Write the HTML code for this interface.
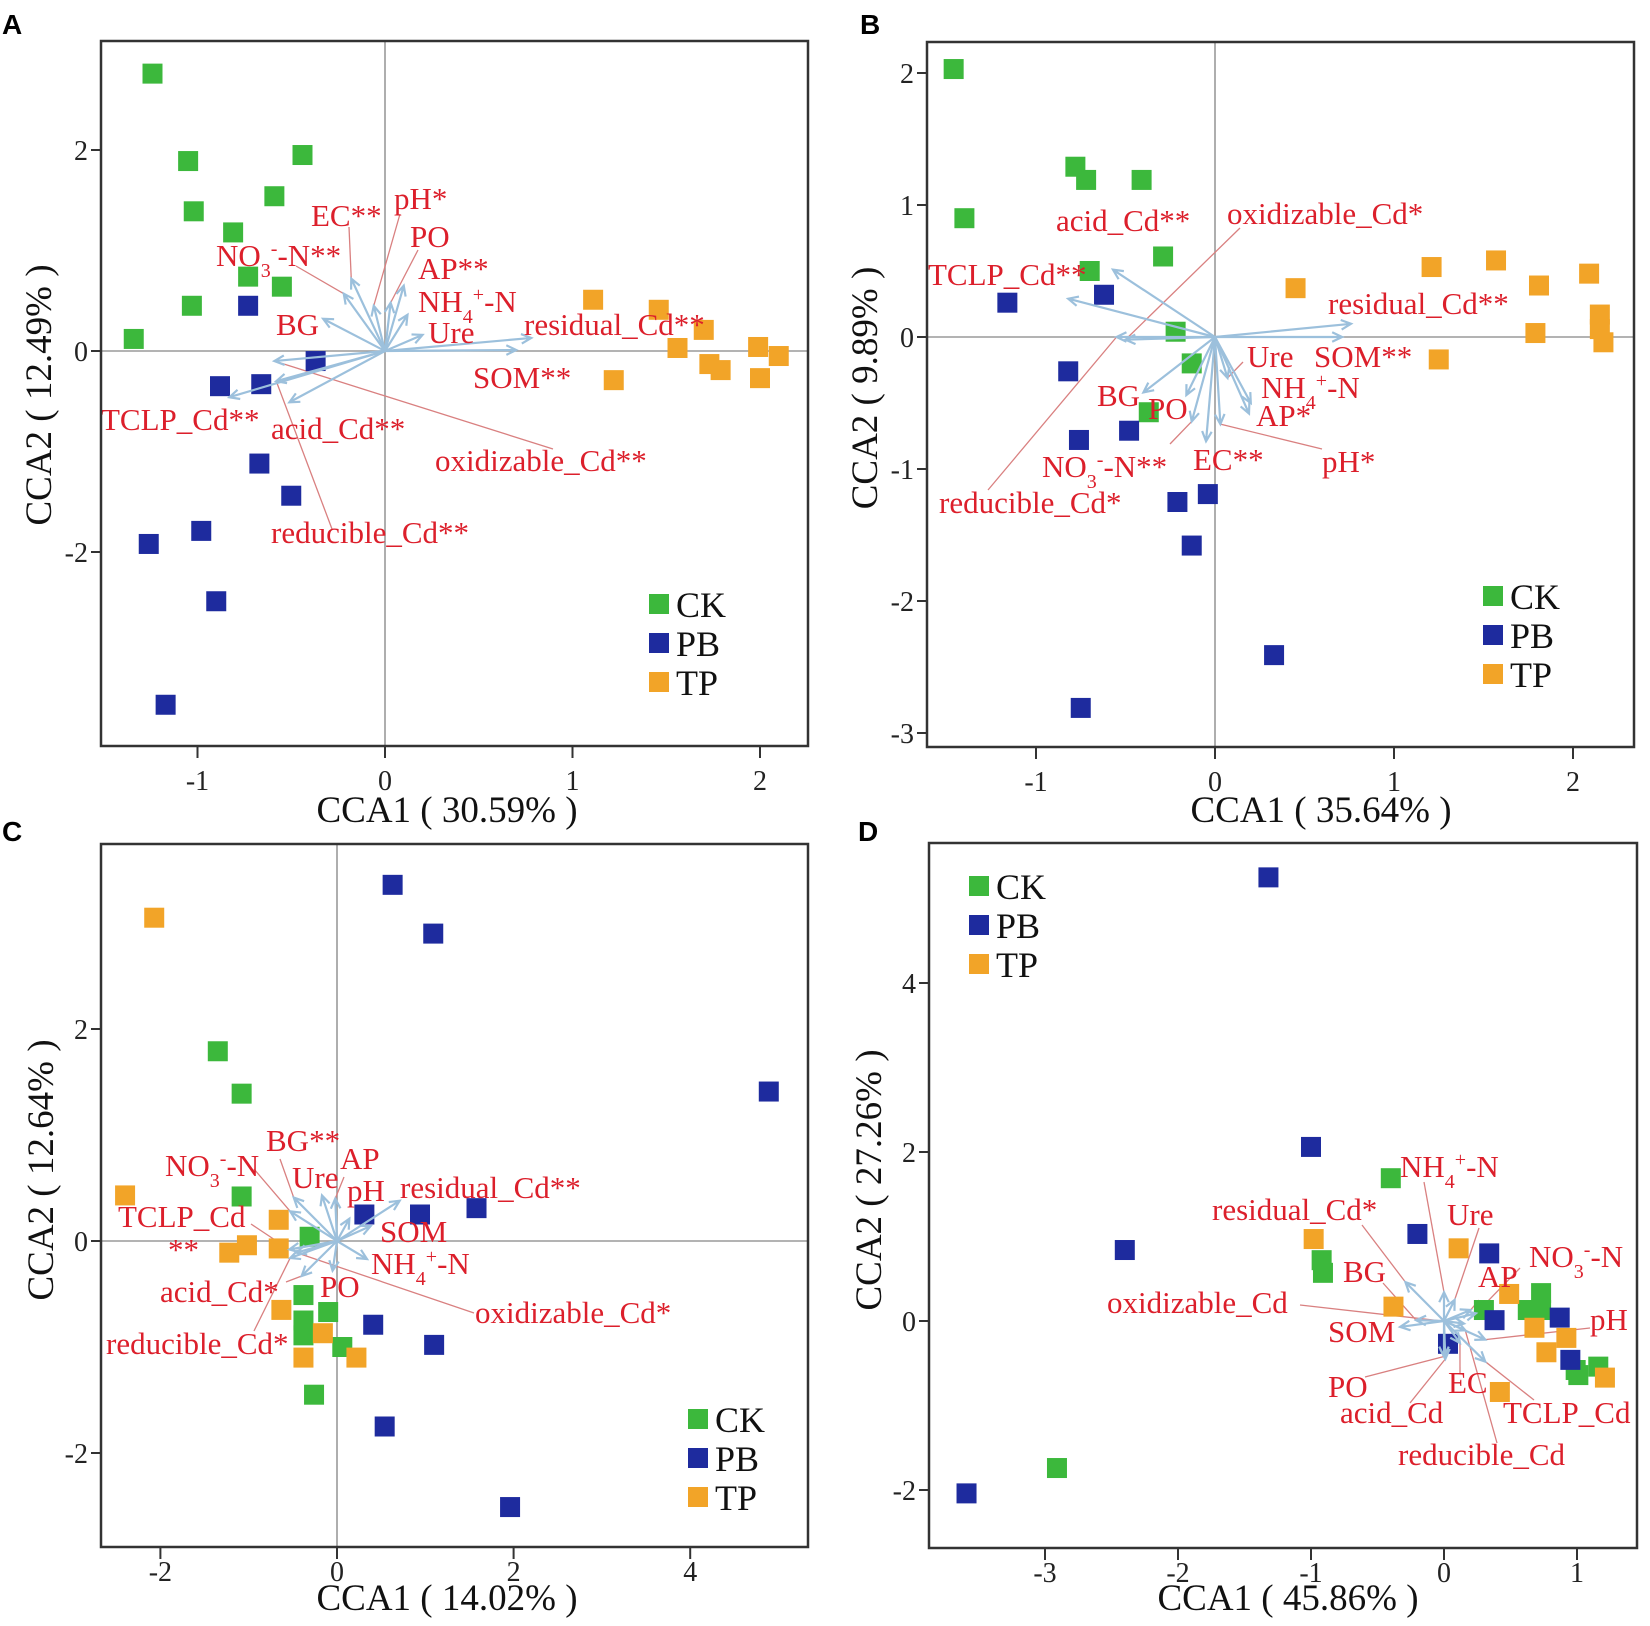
<!DOCTYPE html>
<html><head><meta charset="utf-8"><title>CCA biplots</title>
<style>
html,body{margin:0;padding:0;background:#fff;}
svg{display:block;font-family:"Liberation Serif",serif;}
.lbl{fill:#dc1f2b;font-size:31px;}
.tick{fill:#222;font-size:28px;}
.ttl{fill:#111;font-size:37px;}
.leg{fill:#111;font-size:36px;}
.let{font-family:"Liberation Sans",sans-serif;font-weight:bold;font-size:28px;fill:#000;}
</style></head>
<body>
<svg id="fig" width="1650" height="1626" viewBox="0 0 1650 1626" xmlns="http://www.w3.org/2000/svg"></svg>
<script>
// ---------- DATA ----------
const A_CK=[[-1.24,2.76],[-1.05,1.89],[-1.02,1.39],[-0.44,1.95],[-0.59,1.54],[-0.81,1.18],[-0.73,0.74],[-0.55,0.64],[-1.03,0.45],[-1.34,0.12]];
const A_PB=[[-0.73,0.45],[-0.37,-0.10],[-0.88,-0.35],[-0.66,-0.33],[-0.67,-1.12],[-0.50,-1.44],[-1.26,-1.92],[-0.98,-1.79],[-0.90,-2.49],[-1.17,-3.52]];
const A_TP=[[1.11,0.51],[1.46,0.41],[1.70,0.21],[1.56,0.03],[1.73,-0.13],[1.79,-0.19],[1.22,-0.29],[1.99,0.04],[2.10,-0.05],[2.00,-0.27]];
const A_vecNames=["EC","pH","PO","AP","NH4","Ure","residual","SOM","BG","NO3","TCLP","acid","reducible","oxidizable"];
const A_vecX=[-0.18,-0.06,0.03,0.10,0.12,0.20,0.78,0.70,-0.33,-0.22,-0.83,-0.51,-0.58,-0.59];
const A_vecY=[0.72,0.45,0.48,0.65,0.36,0.16,0.13,0.01,0.32,0.57,-0.46,-0.51,-0.30,-0.10];

const B_CK=[[-1.46,2.03],[-1.40,0.90],[-0.78,1.29],[-0.72,1.19],[-0.41,1.19],[-0.70,0.50],[-0.29,0.61],[-0.22,0.04],[-0.13,-0.20],[-0.37,-0.57]];
const B_PB=[[-1.16,0.26],[-0.62,0.32],[-0.82,-0.26],[-0.76,-0.78],[-0.48,-0.71],[-0.21,-1.25],[-0.04,-1.19],[-0.13,-1.58],[0.33,-2.41],[-0.75,-2.81]];
const B_TP=[[0.45,0.37],[1.21,0.53],[1.57,0.58],[1.81,0.39],[2.09,0.48],[2.15,0.17],[2.15,0.06],[2.17,-0.04],[1.79,0.03],[1.25,-0.17]];
const B_vecNames=["TCLP","acid","reducible","oxidizable","residual","SOM","Ure","NH4","AP","pH","EC","NO3","PO","BG"];
const B_vecX=[-0.82,-0.57,-0.55,-0.50,0.76,0.71,0.07,0.20,0.19,0.03,-0.05,-0.13,-0.16,-0.40];
const B_vecY=[0.29,0.51,0.00,-0.02,0.10,0.00,-0.31,-0.50,-0.58,-0.66,-0.79,-0.64,-0.44,-0.42];

const C_CK=[[-1.35,1.79],[-1.08,1.39],[-1.08,0.42],[-0.31,0.04],[-0.38,-0.51],[-0.38,-0.75],[-0.38,-0.89],[-0.10,-0.67],[0.06,-1.00],[-0.26,-1.45]];
const C_PB=[[0.63,3.36],[1.09,2.90],[4.89,1.41],[0.31,0.25],[0.94,0.25],[1.58,0.31],[0.41,-0.79],[1.10,-0.98],[0.54,-1.75],[1.96,-2.51]];
const C_TP=[[-2.07,3.05],[-2.40,0.43],[-0.66,0.20],[-1.22,-0.11],[-1.02,-0.04],[-0.66,-0.07],[-0.63,-0.65],[-0.16,-0.87],[-0.38,-1.10],[0.22,-1.10]];
const C_vecNames=["BG","NO3","Ure","AP","residual","pH","SOM","NH4","PO","acid","reducible","TCLP","oxidizable"];
const C_vecX=[-0.49,-0.53,-0.17,-0.02,0.71,0.14,0.38,0.34,-0.05,-0.40,-0.53,-0.54,-0.46];
const C_vecY=[0.41,0.28,0.43,0.40,0.38,0.21,0.14,-0.17,-0.28,-0.33,-0.16,-0.08,-0.11];

const D_CK=[[-0.40,1.69],[-0.92,0.72],[-0.91,0.57],[0.30,0.13],[0.73,0.33],[0.63,0.13],[0.73,0.13],[0.99,-0.58],[1.16,-0.54],[1.01,-0.64],[-2.91,-1.74]];
const D_PB=[[-1.32,5.25],[-1.00,2.06],[-0.20,1.03],[-2.40,0.84],[0.34,0.80],[0.38,0.01],[0.87,0.04],[0.03,-0.27],[0.95,-0.46],[-3.59,-2.04]];
const D_TP=[[-0.98,0.97],[0.11,0.86],[0.49,0.32],[-0.38,0.17],[0.68,-0.08],[0.92,-0.20],[0.77,-0.37],[1.21,-0.67],[0.42,-0.84]];
const D_vecNames=["NH4","Ure","residual","BG","SOM","oxidizable","AP","NO3","pH","EC","PO","acid","TCLP","reducible"];
const D_vecX=[0.00,0.08,-0.29,-0.21,-0.33,0.15,0.20,0.24,0.31,0.12,0.00,0.01,0.31,0.16];
const D_vecY=[0.34,0.25,0.46,0.01,-0.07,-0.03,0.13,0.09,-0.22,-0.26,-0.42,-0.45,-0.48,-0.11];

// ---------- LAYOUT ----------
const SUB=(t)=>'<tspan baseline-shift="sub" font-size="20">'+t+'</tspan>';
const SUP=(t)=>'<tspan baseline-shift="super" font-size="20">'+t+'</tspan>';
const NO3=(s)=>'NO'+SUB('3')+SUP('-')+'-N'+s;
const NH4=(s)=>'NH'+SUB('4')+SUP('+')+'-N'+s;
const A_lab={EC:['EC**',311,226,349,227],pH:['pH*',394,209,400,214],PO:['PO',410,247,418,250],AP:['AP**',418,279],NH4:[NH4(''),418,312],Ure:['Ure',428,343],residual:['residual_Cd**',524,335],SOM:['SOM**',473,388],BG:['BG',276,335],NO3:[NO3('**'),216,266,296,266],TCLP:['TCLP_Cd**',101,430],acid:['acid_Cd**',271,439],reducible:['reducible_Cd**',271,543,332,529],oxidizable:['oxidizable_Cd**',435,471,553,449]};
const B_lab={TCLP:['TCLP_Cd**',928,285],acid:['acid_Cd**',1056,231],reducible:['reducible_Cd*',939,513,988,490],oxidizable:['oxidizable_Cd*',1227,224,1240,228],residual:['residual_Cd**',1328,314],SOM:['SOM**',1314,367],Ure:['Ure',1247,367,1243,362],NH4:[NH4(''),1261,398],AP:['AP*',1256,426],pH:['pH*',1322,472,1322,449],EC:['EC**',1193,470],NO3:[NO3('**'),1042,477,1170,444],PO:['PO',1148,419],BG:['BG',1097,406]};
const C_lab={BG:['BG**',266,1151,280,1159],NO3:[NO3(''),165,1176,254,1169],Ure:['Ure',292,1188],AP:['AP',340,1169,344,1177],residual:['residual_Cd**',400,1198],pH:['pH',347,1201],SOM:['SOM',380,1242],NH4:[NH4(''),371,1274],PO:['PO',320,1297],acid:['acid_Cd*',160,1302,286,1282],reducible:['reducible_Cd*',106,1354,254,1331],TCLP:['TCLP_Cd',118,1227,251,1224],oxidizable:['oxidizable_Cd*',475,1323,474,1313]};
const D_lab={NH4:[NH4(''),1400,1177,1424,1182],Ure:['Ure',1447,1225,1479,1228],residual:['residual_Cd*',1212,1220,1362,1225],BG:['BG',1343,1282,1383,1283],SOM:['SOM',1328,1342],oxidizable:['oxidizable_Cd',1107,1313,1300,1305],AP:['AP',1478,1287,1479,1300],NO3:[NO3(''),1529,1267,1520,1268],pH:['pH',1590,1330,1590,1328],EC:['EC',1448,1393,1460,1373],PO:['PO',1328,1397,1365,1377],acid:['acid_Cd',1340,1423,1410,1403],TCLP:['TCLP_Cd',1503,1423,1534,1400],reducible:['reducible_Cd',1398,1465,1497,1443]};

const panels=[
 {id:'a',box:[101,41,808,746],ox:385,kx:187.5,oy:351,ky:100.5,xt:[-1,0,1,2],yt:[-2,0,2],cross:true,xtitle:'CCA1 ( 30.59% )',xtc:447,xtb:822,tickOff:44,ytitle:'CCA2 ( 12.49% )',ytx:38,yty:395,letter:'A',lx:2,ly:34,leg:[659,604],ck:A_CK,pb:A_PB,tp:A_TP,vn:A_vecNames,vx:A_vecX,vy:A_vecY,lab:A_lab},
 {id:'b',box:[927,42,1634,747],ox:1215,kx:179,oy:337,ky:132,xt:[-1,0,1,2],yt:[-3,-2,-1,0,1,2],cross:true,xtitle:'CCA1 ( 35.64% )',xtc:1321,xtb:822,tickOff:44,ytitle:'CCA2 ( 9.89% )',ytx:864,yty:388,letter:'B',lx:860,ly:34,leg:[1493,596],ck:B_CK,pb:B_PB,tp:B_TP,vn:B_vecNames,vx:B_vecX,vy:B_vecY,lab:B_lab},
 {id:'c',box:[101,844,808,1547],ox:337,kx:88.3,oy:1241,ky:106,xt:[-2,0,2,4],yt:[-2,0,2],cross:true,xtitle:'CCA1 ( 14.02% )',xtc:447,xtb:1610,tickOff:34,ytitle:'CCA2 ( 12.64% )',ytx:40,yty:1170,letter:'C',lx:2,ly:841,leg:[698,1419],ck:C_CK,pb:C_PB,tp:C_TP,vn:C_vecNames,vx:C_vecX,vy:C_vecY,lab:C_lab},
 {id:'d',box:[929,843,1637,1548],ox:1444,kx:133,oy:1321,ky:84.5,xt:[-3,-2,-1,0,1],yt:[-2,0,2,4],cross:false,xtitle:'CCA1 ( 45.86% )',xtc:1288,xtb:1610,tickOff:34,ytitle:'CCA2 ( 27.26% )',ytx:868,yty:1180,letter:'D',lx:858,ly:841,leg:[979,886],ck:D_CK,pb:D_PB,tp:D_TP,vn:D_vecNames,vx:D_vecX,vy:D_vecY,lab:D_lab}
];
const COL={ck:'#3cb83c',pb:'#1e2b9e',tp:'#f2a428'};
const NS='http://www.w3.org/2000/svg';
const svg=document.getElementById('fig');
function mk(tag,attrs,parent){const e=document.createElementNS(NS,tag);for(const k in attrs)e.setAttribute(k,attrs[k]);(parent||svg).appendChild(e);return e;}
function sx(p,v){return p.ox+v*p.kx;}
function sy(p,v){return p.oy-v*p.ky;}

panels.forEach(p=>{
  const g=mk('g',{});
  
  
  const [x0,y0,x1,y1]=p.box;
  const let_=mk('text',{x:p.lx,y:p.ly,class:'let'},g);let_.textContent=p.letter;
  
  
  if(p.cross){
    const h=mk('line',{x1:x0,x2:x1,y1:sy(p,0),y2:sy(p,0),stroke:'#9a9a9a','stroke-width':1.6},g);
    
    
    const v=mk('line',{x1:sx(p,0),x2:sx(p,0),y1:y0,y2:y1,stroke:'#9a9a9a','stroke-width':1.6},g);
    
    
  }
  p.xt.forEach(t=>{
    const X=sx(p,t);
    const l=mk('line',{x1:X,x2:X,y1:y1,y2:y1+12,stroke:'#333','stroke-width':2},g);
    
    
    const tx=mk('text',{x:X,y:y1+p.tickOff,'text-anchor':'middle',class:'tick'},g);tx.textContent=t;
    
    
  });
  p.yt.forEach(t=>{
    const Y=sy(p,t);
    const l=mk('line',{x1:x0-10,x2:x0,y1:Y,y2:Y,stroke:'#333','stroke-width':2},g);
    
    
    const tx=mk('text',{x:x0-13,y:Y+10,'text-anchor':'end',class:'tick'},g);tx.textContent=t;
    
    
  });
  const xt=mk('text',{x:p.xtc,y:p.xtb,'text-anchor':'middle',class:'ttl'},g);xt.textContent=p.xtitle;
  
  
  const yt=mk('text',{x:0,y:0,'text-anchor':'middle',class:'ttl',transform:'translate('+(p.ytx+13)+','+p.yty+') rotate(-90)'},g);yt.textContent=p.ytitle;
  
  
  p.vn.forEach((n,i)=>{
    const L=p.lab[n];if(!L||L[3]==null)return;
    const ln=mk('line',{x1:L[3],y1:L[4],x2:sx(p,p.vx[i]),y2:sy(p,p.vy[i]),stroke:'#d98080','stroke-width':1.3},g);
    
    
  });
  [['ck',p.ck],['pb',p.pb],['tp',p.tp]].forEach(([k,arr])=>{
    arr.forEach(pt=>{
      const r=mk('rect',{x:sx(p,pt[0])-10,y:sy(p,pt[1])-10,width:20,height:20,fill:COL[k]},g);
      
      
    });
  });
  const cx=sx(p,0),cy=sy(p,0);
  p.vn.forEach((n,i)=>{
    const X=sx(p,p.vx[i]),Y=sy(p,p.vy[i]);
    const ang=Math.atan2(Y-cy,X-cx),h=11,a=0.45;
    const d='M'+cx+','+cy+'L'+X+','+Y+'M'+(X-h*Math.cos(ang-a))+','+(Y-h*Math.sin(ang-a))+'L'+X+','+Y+'L'+(X-h*Math.cos(ang+a))+','+(Y-h*Math.sin(ang+a));
    const ar=mk('path',{d:d,stroke:'#9cc0dc','stroke-width':2.2,fill:'none'},g);
    
    
  });
  p.vn.forEach(n=>{
    const L=p.lab[n];if(!L)return;
    const t=mk('text',{x:L[1],y:L[2],class:'lbl'},g);t.innerHTML=L[0];
    
    
  });
  if(p.id==='c'){const t=mk('text',{x:168,y:1260,class:'lbl'},g);t.textContent='**';
    
    }
  [['ck','CK'],['pb','PB'],['tp','TP']].forEach(([k,txt],j)=>{
    const Y=p.leg[1]+j*39;
    const r=mk('rect',{x:p.leg[0]-10,y:Y-10,width:20,height:20,fill:COL[k]},g);
    
    
    const t=mk('text',{x:p.leg[0]+17,y:Y+13,class:'leg'},g);t.textContent=txt;
    
    
  });
  const fr=mk('rect',{x:x0,y:y0,width:x1-x0,height:y1-y0,fill:'none',stroke:'#333','stroke-width':2.5},g);
  
  
});
</script>
</body></html>
